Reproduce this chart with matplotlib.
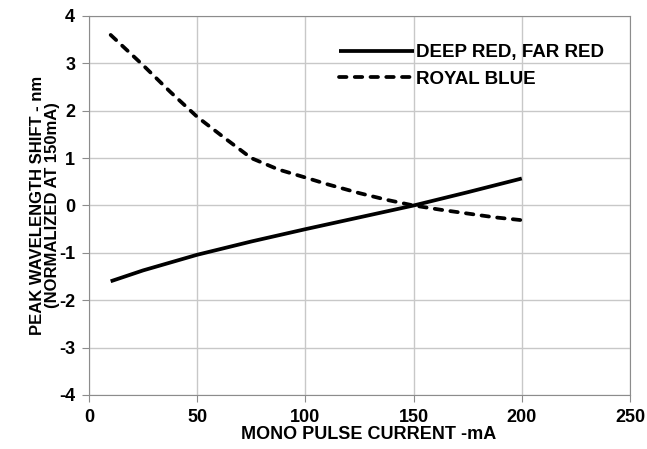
import numpy as np
import matplotlib
matplotlib.use('Agg')
import matplotlib.pyplot as plt

plt.rcParams['font.family'] = ['Liberation Sans', 'DejaVu Sans']
plt.rcParams['font.weight'] = 'bold'
plt.rcParams['axes.unicode_minus'] = False

# Peak wavelength shift vs pulse current
red_current = [10, 25, 50, 75, 100, 125, 150, 175, 200]
red_shift = [-1.6, -1.37, -1.04, -0.76, -0.5, -0.25, 0.0, 0.28, 0.57]

blue_current = [10, 25, 37.5, 50, 62.5, 75, 87.5, 100, 110, 125, 137.5, 150, 162.5, 175, 187.5, 200]
blue_shift = [3.6, 2.96, 2.4, 1.87, 1.43, 1.0, 0.76, 0.59, 0.45, 0.26, 0.12, 0.0, -0.09, -0.17, -0.25, -0.31]

x_ticks = [0, 50, 100, 150, 200, 250]
y_ticks = [-4, -3, -2, -1, 0, 1, 2, 3, 4]

fig = plt.figure(figsize=(6.47, 4.49), dpi=100)
ax = fig.add_axes([0.1376, 0.1203, 0.8361, 0.8441])

ax.plot(red_current, red_shift, color='black', lw=2.7, solid_capstyle='butt',
        label='DEEP RED, FAR RED')
ax.plot(blue_current, blue_shift, color='black', lw=2.7, dashes=(2.0, 2.2),
        dash_capstyle='round', label='ROYAL BLUE')

ax.set_xlim(0, 250)
ax.set_ylim(-4, 4)
ax.set_xticks(x_ticks)
ax.set_yticks(y_ticks)
ax.set_xticklabels([str(v) for v in x_ticks], fontweight='bold')
ax.set_yticklabels([str(v) for v in y_ticks], fontweight='bold')
ax.grid(True, color='#c8c8c8', lw=1.0)
ax.set_axisbelow(True)
for s in ax.spines.values():
    s.set_color('#8c8c8c')
ax.tick_params(direction='out', length=5, color='#8c8c8c', labelsize=13, pad=5)

ax.set_xlabel('MONO PULSE CURRENT -mA', fontsize=13, fontweight='bold', labelpad=0)
ax.xaxis.label.set_x(0.516)
ax.set_ylabel('PEAK WAVELENGTH SHIFT - nm\n(NORMALIZED AT 150mA)', fontsize=12,
              fontweight='bold', labelpad=-1, linespacing=1.0)

leg = ax.legend(loc='upper left', bbox_to_anchor=(0.431, 0.97), frameon=False,
                fontsize=13.5, handlelength=4.0, handletextpad=0.1, labelspacing=0.5)
for t in leg.get_texts():
    t.set_fontweight('bold')

fig.savefig('out.png', dpi=100)
